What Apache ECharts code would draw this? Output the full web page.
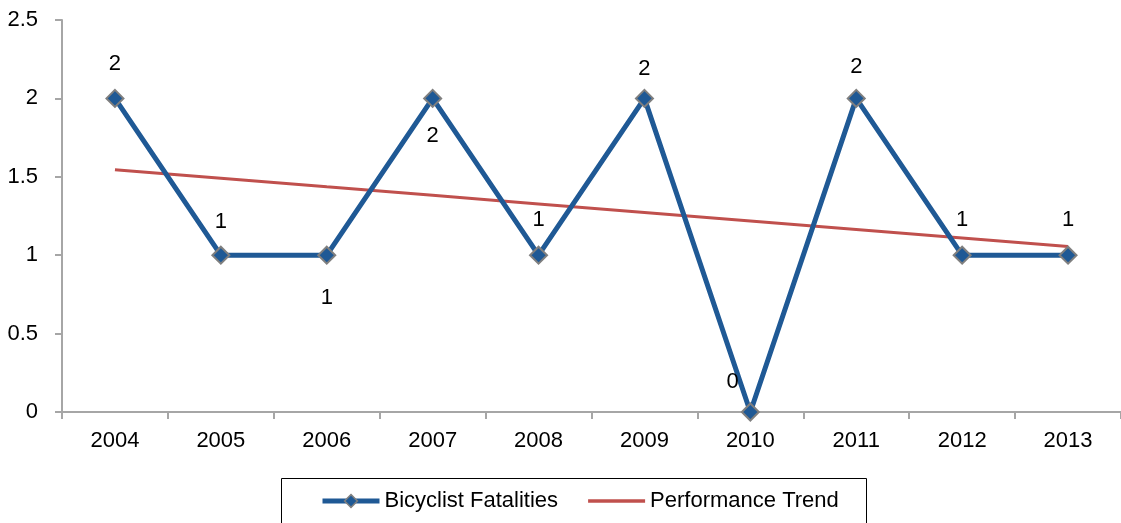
<!DOCTYPE html>
<html>
<head>
<meta charset="utf-8">
<script src="https://cdn.jsdelivr.net/npm/echarts@6/dist/echarts.min.js"></script>
<style>
  html, body { margin: 0; padding: 0; background: #fff; }
  #chart { width: 1121px; height: 523px; }
</style>
</head>
<body>
<div id="chart"></div>
<script>
// Yearly values
const years = ['2004', '2005', '2006', '2007', '2008', '2009', '2010', '2011', '2012', '2013'];
const fatalities = [2, 1, 1, 2, 1, 2, 0, 2, 1, 1];
const trend = [1.545, 1.491, 1.436, 1.382, 1.327, 1.273, 1.218, 1.164, 1.109, 1.055];
const yTicks = [0, 0.5, 1, 1.5, 2, 2.5];
// where each value label sits relative to its marker, and how far from it
const labelSide = ['top', 'top', 'bottom', 'bottom', 'top', 'top', 'left', 'top', 'top', 'top'];
const labelGap = [14, 13, 22, 17, 15, 9, 4, 11, 15, 15];

const FONT = '"Liberation Sans Narrow", "Arial Narrow", "Liberation Sans", Arial, sans-serif';
const FS = 22;
const BLUE = '#1F5995';
const RED = '#C0504D';
const AXIS = '#A6A6A6';

const chart = echarts.init(document.getElementById('chart'), null, { renderer: 'canvas' });

const fatalityData = fatalities.map((v, i) => {
  const label = { position: labelSide[i], distance: labelGap[i] };
  if (labelSide[i] === 'left') label.offset = [2, -30];
  return { value: v, label };
});

chart.setOption({
  animation: false,
  textStyle: { fontFamily: FONT },
  grid: { left: 62, right: -6, top: 20, bottom: 111, containLabel: false },
  xAxis: {
    type: 'category',
    data: years,
    boundaryGap: true,
    axisLine: { lineStyle: { color: AXIS, width: 2 } },
    axisTick: { show: true, length: 7, lineStyle: { color: AXIS, width: 2 }, inside: false },
    axisLabel: { color: '#000', fontSize: FS, fontFamily: FONT, margin: 18 },
    splitLine: { show: false }
  },
  yAxis: {
    type: 'value',
    min: yTicks[0],
    max: yTicks[yTicks.length - 1],
    interval: 0.5,
    axisLine: { show: true, lineStyle: { color: AXIS, width: 2 } },
    axisTick: { show: true, length: 7, lineStyle: { color: AXIS, width: 2 } },
    axisLabel: { color: '#000', fontSize: FS, fontFamily: FONT, margin: 24 },
    splitLine: { show: false }
  },
  legend: {
    left: 315,
    top: 485,
    itemWidth: 57,
    itemHeight: 16,
    itemGap: 30,
    textStyle: { color: '#000', fontSize: FS, fontFamily: FONT },
    data: [
      { name: 'Bicyclist Fatalities', lineStyle: { width: 5, color: BLUE },
        itemStyle: { color: BLUE, borderColor: '#7F7F7F', borderWidth: 1.5 } },
      { name: 'Performance Trend', icon: 'path://M0,0H57V3.5H0Z',
        itemStyle: { color: RED, borderWidth: 0 } }
    ]
  },
  graphic: [{
    type: 'rect',
    shape: { x: 281.5, y: 478.5, width: 585, height: 60 },
    style: { fill: 'none', stroke: '#000', lineWidth: 1 },
    silent: true
  }],
  series: [
    {
      name: 'Performance Trend',
      type: 'line',
      data: trend,
      symbol: 'none',
      z: 2,
      lineStyle: { color: RED, width: 3 },
      itemStyle: { color: RED }
    },
    {
      name: 'Bicyclist Fatalities',
      type: 'line',
      data: fatalityData,
      symbol: 'diamond',
      symbolSize: 17,
      z: 3,
      lineStyle: { color: BLUE, width: 5 },
      itemStyle: { color: BLUE, borderColor: '#7F7F7F', borderWidth: 2 },
      label: { show: true, color: '#000', fontSize: FS, fontFamily: FONT }
    }
  ]
});
</script>
</body>
</html>
